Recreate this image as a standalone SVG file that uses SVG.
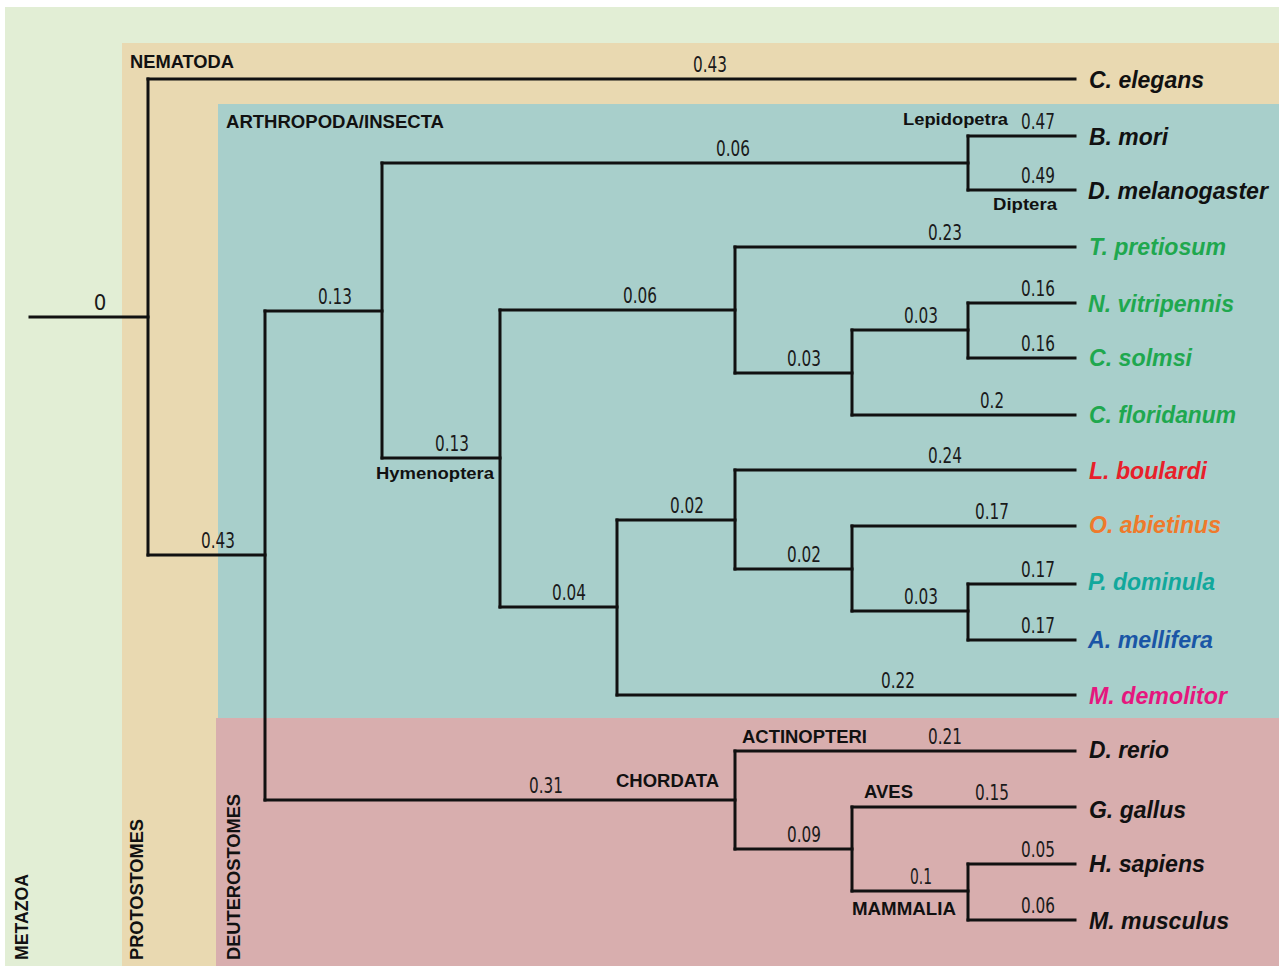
<svg xmlns="http://www.w3.org/2000/svg" width="1279" height="966" viewBox="0 0 1279 966">
<style>
.br{fill:none;stroke:#111;stroke-width:3;stroke-linecap:square}
.num{font-family:"Liberation Sans Narrow","DejaVu Sans Condensed","Liberation Sans",sans-serif;font-size:22px;fill:#1a1a1a;text-anchor:middle}
.grp{font-family:"Liberation Sans",Arial,sans-serif;font-weight:bold;font-size:18px;fill:#111}
.sub{font-family:"Liberation Sans",Arial,sans-serif;font-weight:bold;font-size:17px;fill:#111}
.sp{font-family:"Liberation Sans",Arial,sans-serif;font-weight:bold;font-style:italic;font-size:23px;fill:#111}
.grn{fill:#1fa84f}
</style>
<rect width="1279" height="966" fill="#ffffff"/>
<g id="regions">
<rect x="5" y="7" width="1274" height="959" fill="#e2eed5"/>
<rect x="122" y="43" width="1157" height="923" fill="#e9d9b1"/>
<rect x="218" y="104" width="1061" height="614" fill="#a8cfcb"/>
<rect x="216" y="718" width="1063" height="248" fill="#d8aeae"/>
<text class="grp" transform="translate(28,960) rotate(-90)" textLength="86" lengthAdjust="spacingAndGlyphs">METAZOA</text>
<text class="grp" transform="translate(143,960) rotate(-90)" textLength="141" lengthAdjust="spacingAndGlyphs">PROTOSTOMES</text>
<text class="grp" transform="translate(240,960) rotate(-90)" textLength="166" lengthAdjust="spacingAndGlyphs">DEUTEROSTOMES</text>
<text class="grp" x="130" y="68" textLength="104" lengthAdjust="spacingAndGlyphs">NEMATODA</text>
<text class="grp" x="226" y="128" textLength="218" lengthAdjust="spacingAndGlyphs">ARTHROPODA/INSECTA</text>
</g>
<g id="connectors">
<path class="br" d="M30 317H148M148 79H1075M148 555H265M265 311H382M382 163H968M968 136H1075M968 190H1075M382 458H500M500 310H735M735 247H1075M735 373H852M852 330H968M968 303H1075M968 358H1075M852 415H1075M500 607H617M617 520H735M735 470H1075M735 569H852M852 526H1075M852 611H968M968 584H1075M968 640H1075M617 695H1075M265 800H735M735 751H1075M735 849H852M852 807H1075M852 891H968M968 864H1075M968 920H1075"/>
<path class="br" d="M148 79V555M265 311V800M382 163V458M968 136V190M500 310V607M735 247V373M852 330V415M968 303V358M617 520V695M735 470V569M852 526V611M968 584V640M735 751V849M852 807V891M968 864V920"/>
</g>
<g id="branch-lengths">
<text class="num" x="100" y="310">0</text>
<text class="num" x="710" y="72" textLength="34" lengthAdjust="spacingAndGlyphs">0.43</text>
<text class="num" x="218" y="548" textLength="34" lengthAdjust="spacingAndGlyphs">0.43</text>
<text class="num" x="335" y="304" textLength="34" lengthAdjust="spacingAndGlyphs">0.13</text>
<text class="num" x="733" y="156" textLength="34" lengthAdjust="spacingAndGlyphs">0.06</text>
<text class="num" x="1038" y="129" textLength="34" lengthAdjust="spacingAndGlyphs">0.47</text>
<text class="num" x="1038" y="183" textLength="34" lengthAdjust="spacingAndGlyphs">0.49</text>
<text class="num" x="452" y="451" textLength="34" lengthAdjust="spacingAndGlyphs">0.13</text>
<text class="num" x="640" y="303" textLength="34" lengthAdjust="spacingAndGlyphs">0.06</text>
<text class="num" x="945" y="240" textLength="34" lengthAdjust="spacingAndGlyphs">0.23</text>
<text class="num" x="804" y="366" textLength="34" lengthAdjust="spacingAndGlyphs">0.03</text>
<text class="num" x="921" y="323" textLength="34" lengthAdjust="spacingAndGlyphs">0.03</text>
<text class="num" x="1038" y="296" textLength="34" lengthAdjust="spacingAndGlyphs">0.16</text>
<text class="num" x="1038" y="351" textLength="34" lengthAdjust="spacingAndGlyphs">0.16</text>
<text class="num" x="992" y="408" textLength="24" lengthAdjust="spacingAndGlyphs">0.2</text>
<text class="num" x="569" y="600" textLength="34" lengthAdjust="spacingAndGlyphs">0.04</text>
<text class="num" x="687" y="513" textLength="34" lengthAdjust="spacingAndGlyphs">0.02</text>
<text class="num" x="945" y="463" textLength="34" lengthAdjust="spacingAndGlyphs">0.24</text>
<text class="num" x="804" y="562" textLength="34" lengthAdjust="spacingAndGlyphs">0.02</text>
<text class="num" x="992" y="519" textLength="34" lengthAdjust="spacingAndGlyphs">0.17</text>
<text class="num" x="921" y="604" textLength="34" lengthAdjust="spacingAndGlyphs">0.03</text>
<text class="num" x="1038" y="577" textLength="34" lengthAdjust="spacingAndGlyphs">0.17</text>
<text class="num" x="1038" y="633" textLength="34" lengthAdjust="spacingAndGlyphs">0.17</text>
<text class="num" x="898" y="688" textLength="34" lengthAdjust="spacingAndGlyphs">0.22</text>
<text class="num" x="546" y="793" textLength="34" lengthAdjust="spacingAndGlyphs">0.31</text>
<text class="num" x="945" y="744" textLength="34" lengthAdjust="spacingAndGlyphs">0.21</text>
<text class="num" x="804" y="842" textLength="34" lengthAdjust="spacingAndGlyphs">0.09</text>
<text class="num" x="992" y="800" textLength="34" lengthAdjust="spacingAndGlyphs">0.15</text>
<text class="num" x="921" y="884" textLength="22" lengthAdjust="spacingAndGlyphs">0.1</text>
<text class="num" x="1038" y="857" textLength="34" lengthAdjust="spacingAndGlyphs">0.05</text>
<text class="num" x="1038" y="913" textLength="34" lengthAdjust="spacingAndGlyphs">0.06</text>
</g>
<g id="clade-labels">
<text class="sub" x="903" y="125" textLength="105" lengthAdjust="spacingAndGlyphs">Lepidopetra</text>
<text class="sub" x="993" y="210" textLength="64" lengthAdjust="spacingAndGlyphs">Diptera</text>
<text class="sub" x="376" y="479" textLength="118" lengthAdjust="spacingAndGlyphs">Hymenoptera</text>
<text class="grp" x="616" y="787" textLength="103" lengthAdjust="spacingAndGlyphs">CHORDATA</text>
<text class="grp" x="742" y="743" textLength="125" lengthAdjust="spacingAndGlyphs">ACTINOPTERI</text>
<text class="grp" x="864" y="798" textLength="49" lengthAdjust="spacingAndGlyphs">AVES</text>
<text class="grp" x="852" y="915" textLength="104" lengthAdjust="spacingAndGlyphs">MAMMALIA</text>
</g>
<g id="leaf-c-elegans"><text class="sp" x="1089" y="88" textLength="115" lengthAdjust="spacingAndGlyphs">C. elegans</text></g>
<g id="leaf-b-mori"><text class="sp" x="1089" y="145" textLength="79" lengthAdjust="spacingAndGlyphs">B. mori</text></g>
<g id="leaf-d-melanogaster"><text class="sp" x="1088" y="199" textLength="180" lengthAdjust="spacingAndGlyphs">D. melanogaster</text></g>
<g id="leaf-t-pretiosum"><text class="sp grn" x="1089" y="255" textLength="137" lengthAdjust="spacingAndGlyphs">T. pretiosum</text></g>
<g id="leaf-n-vitripennis"><text class="sp grn" x="1088" y="312" textLength="146" lengthAdjust="spacingAndGlyphs">N. vitripennis</text></g>
<g id="leaf-c-solmsi"><text class="sp grn" x="1089" y="366" textLength="103" lengthAdjust="spacingAndGlyphs">C. solmsi</text></g>
<g id="leaf-c-floridanum"><text class="sp grn" x="1089" y="423" textLength="147" lengthAdjust="spacingAndGlyphs">C. floridanum</text></g>
<g id="leaf-l-boulardi"><text class="sp" x="1089" y="479" style="fill:#e8202a" textLength="118" lengthAdjust="spacingAndGlyphs">L. boulardi</text></g>
<g id="leaf-o-abietinus"><text class="sp" x="1089" y="533" style="fill:#ef7a2b" textLength="132" lengthAdjust="spacingAndGlyphs">O. abietinus</text></g>
<g id="leaf-p-dominula"><text class="sp" x="1088" y="590" style="fill:#12a89c" textLength="127" lengthAdjust="spacingAndGlyphs">P. dominula</text></g>
<g id="leaf-a-mellifera"><text class="sp" x="1088" y="648" style="fill:#1a56a6" textLength="125" lengthAdjust="spacingAndGlyphs">A. mellifera</text></g>
<g id="leaf-m-demolitor"><text class="sp" x="1089" y="704" style="fill:#e5177e" textLength="138" lengthAdjust="spacingAndGlyphs">M. demolitor</text></g>
<g id="leaf-d-rerio"><text class="sp" x="1089" y="758" textLength="80" lengthAdjust="spacingAndGlyphs">D. rerio</text></g>
<g id="leaf-g-gallus"><text class="sp" x="1089" y="818" textLength="97" lengthAdjust="spacingAndGlyphs">G. gallus</text></g>
<g id="leaf-h-sapiens"><text class="sp" x="1089" y="872" textLength="116" lengthAdjust="spacingAndGlyphs">H. sapiens</text></g>
<g id="leaf-m-musculus"><text class="sp" x="1089" y="929" textLength="140" lengthAdjust="spacingAndGlyphs">M. musculus</text></g>
</svg>
